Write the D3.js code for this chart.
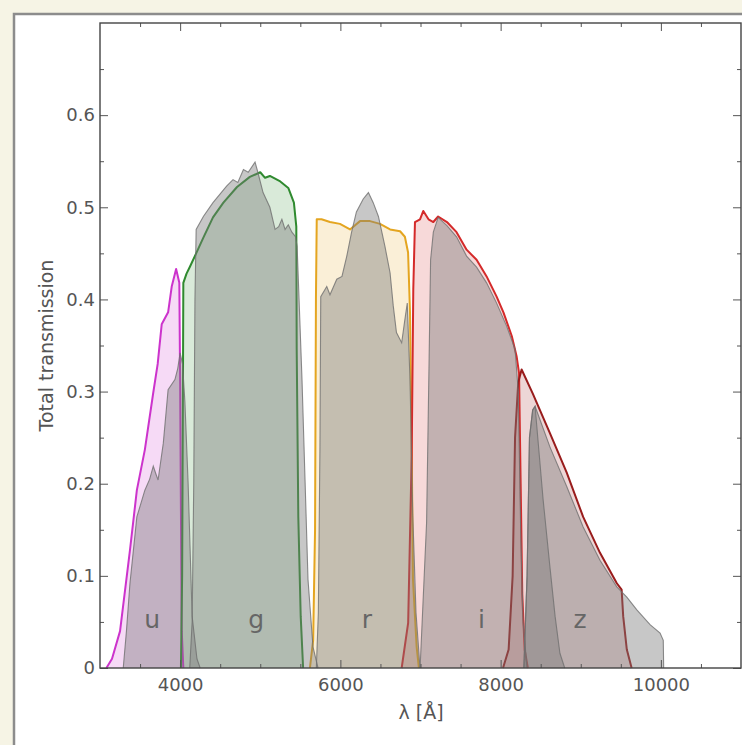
<!DOCTYPE html>
<html>
<head>
<meta charset="utf-8">
<script src="https://cdn.jsdelivr.net/npm/d3@7"></script>
<style>
  html, body { margin: 0; padding: 0; background: #f6f4e5; }
  svg { display: block; }
  text { font-family: "DejaVu Sans", sans-serif; }
</style>
</head>
<body>
<svg id="chart" width="742" height="745"></svg>
<script>
// bands: throughput with colour, plus the grey (measured) curves
const uLam = [3080, 3150, 3250, 3374, 3460, 3560, 3665, 3720, 3770, 3850, 3895, 3950, 3990, 4000, 4010, 4020, 4040];
const uT = [0, 0.01, 0.04, 0.128, 0.193, 0.237, 0.299, 0.33, 0.373, 0.386, 0.414, 0.433, 0.418, 0.31, 0.17, 0.04, 0];

const gLam = [4010, 4025, 4035, 4040, 4080, 4125, 4200, 4290, 4410, 4540, 4710, 4870, 5000, 5060, 5120, 5250, 5350, 5420, 5450, 5455, 5475, 5505, 5535];
const gT = [0, 0.1, 0.3, 0.418, 0.428, 0.436, 0.45, 0.467, 0.489, 0.505, 0.522, 0.533, 0.538, 0.532, 0.534, 0.528, 0.521, 0.505, 0.479, 0.346, 0.164, 0.056, 0];

const rLam = [5620, 5660, 5684, 5695, 5705, 5765, 5870, 5995, 6120, 6245, 6370, 6495, 6620, 6745, 6805, 6845, 6869, 6890, 6906, 6952, 6980];
const rT = [0, 0.03, 0.15, 0.4, 0.487, 0.487, 0.484, 0.482, 0.476, 0.485, 0.485, 0.482, 0.476, 0.474, 0.468, 0.451, 0.386, 0.24, 0.096, 0.023, 0];

const iLam = [6765, 6846, 6890, 6910, 6931, 6994, 7035, 7100, 7160, 7220, 7330, 7450, 7575, 7700, 7825, 7950, 8035, 8140, 8200, 8230, 8250, 8270, 8300, 8340];
const iT = [0, 0.049, 0.23, 0.411, 0.484, 0.487, 0.496, 0.487, 0.484, 0.49, 0.484, 0.473, 0.454, 0.443, 0.425, 0.403, 0.386, 0.36, 0.338, 0.32, 0.2, 0.08, 0.02, 0];

const zLam = [8030, 8100, 8150, 8180, 8220, 8262, 8400, 8615, 8825, 9030, 9240, 9450, 9510, 9530, 9575, 9635];
const zT = [0, 0.02, 0.1, 0.25, 0.31, 0.324, 0.298, 0.255, 0.212, 0.164, 0.125, 0.092, 0.085, 0.056, 0.02, 0];

const uGrayLam = [3290, 3330, 3374, 3460, 3560, 3620, 3665, 3700, 3725, 3790, 3850, 3935, 3970, 4000, 4030, 4060, 4100, 4150, 4210, 4250];
const uGrayT = [0, 0.04, 0.092, 0.164, 0.193, 0.205, 0.219, 0.21, 0.204, 0.244, 0.302, 0.313, 0.325, 0.342, 0.33, 0.288, 0.2, 0.056, 0.01, 0];

const gGrayLam = [4120, 4150, 4170, 4185, 4200, 4290, 4410, 4580, 4660, 4720, 4790, 4850, 4935, 4970, 5035, 5120, 5185, 5230, 5270, 5310, 5350, 5395, 5440, 5460, 5521, 5559, 5596, 5658, 5721];
const gGrayT = [0, 0.05, 0.2, 0.4, 0.476, 0.49, 0.505, 0.523, 0.53, 0.527, 0.541, 0.538, 0.549, 0.538, 0.516, 0.5, 0.476, 0.479, 0.487, 0.476, 0.481, 0.473, 0.468, 0.458, 0.313, 0.204, 0.096, 0.023, 0];

const rGrayLam = [5700, 5725, 5745, 5755, 5830, 5870, 5955, 6020, 6080, 6140, 6200, 6285, 6350, 6410, 6475, 6555, 6620, 6660, 6700, 6765, 6805, 6835, 6869, 6903, 6944, 6994];
const rGrayT = [0, 0.06, 0.24, 0.403, 0.414, 0.405, 0.422, 0.425, 0.447, 0.473, 0.495, 0.509, 0.516, 0.505, 0.49, 0.458, 0.429, 0.393, 0.364, 0.353, 0.378, 0.396, 0.313, 0.168, 0.06, 0];

const iGrayLam = [6995, 7076, 7108, 7126, 7160, 7220, 7330, 7450, 7575, 7700, 7825, 7950, 8075, 8180, 8220, 8250, 8280, 8330];
const iGrayT = [0, 0.158, 0.338, 0.443, 0.473, 0.489, 0.48, 0.468, 0.447, 0.435, 0.418, 0.396, 0.371, 0.346, 0.3, 0.15, 0.05, 0];

const zGrayLam = [8290, 8330, 8360, 8400, 8430, 8615, 8825, 9030, 9240, 9450, 9575, 9700, 9865, 9990, 10030, 10035];
const zGrayT = [0, 0.1, 0.25, 0.28, 0.284, 0.24, 0.197, 0.153, 0.117, 0.088, 0.077, 0.063, 0.047, 0.038, 0.03, 0];

const zNarrowLam = [8290, 8330, 8360, 8400, 8430, 8530, 8615, 8680, 8740, 8800];
const zNarrowT = [0, 0.1, 0.25, 0.28, 0.284, 0.183, 0.11, 0.056, 0.016, 0];

const bandNames = ['u', 'g', 'r', 'i', 'z'];
const bandLabelLam = [3650, 4950, 6330, 7760, 8990];
const bandColors = ['#cc33cc', '#2f8a2f', '#e4a520', '#d42a2a', '#991c1c'];

const xMajor = [4000, 6000, 8000, 10000];
const yMajor = [0, 0.1, 0.2, 0.3, 0.4, 0.5, 0.6];

const width = 742;
const height = 745;
const margin = { top: 23, right: 1, bottom: 77, left: 100 };

const svg = d3.select('#chart');

svg.append('rect').attr('width', width).attr('height', height).attr('fill', '#f6f4e5');
svg.append('rect')
  .attr('x', 14).attr('y', 14).attr('width', 800).attr('height', 800)
  .attr('fill', '#fff').attr('stroke', '#8c8c8c').attr('stroke-width', 2.5);

const x = d3.scaleLinear().domain([3000, 11000]).range([margin.left, width - margin.right]);
const y = d3.scaleLinear().domain([0, 0.7]).range([height - margin.bottom, margin.top]);

const zip = (lam, t) => lam.map((l, k) => ({ l, t: t[k] }));

const area = d3.area().x((d) => x(d.l)).y0(y(0)).y1((d) => y(d.t));
const line = d3.line().x((d) => x(d.l)).y((d) => y(d.t));

const coloured = [zip(uLam, uT), zip(gLam, gT), zip(rLam, rT), zip(iLam, iT), zip(zLam, zT)];
const grey = [zip(uGrayLam, uGrayT), zip(gGrayLam, gGrayT), zip(rGrayLam, rGrayT),
  zip(iGrayLam, iGrayT), zip(zGrayLam, zGrayT), zip(zNarrowLam, zNarrowT)];

const plot = svg.append('g').attr('class', 'plot-area');

plot.selectAll('.cfill')
  .data(coloured)
  .join('path')
  .attr('class', 'cfill')
  .attr('d', area)
  .attr('fill', (d, k) => bandColors[k])
  .attr('fill-opacity', 0.18);

plot.selectAll('.cline')
  .data(coloured)
  .join('path')
  .attr('class', 'cline')
  .attr('d', line)
  .attr('fill', 'none')
  .attr('stroke', (d, k) => bandColors[k])
  .attr('stroke-width', 2)
  .attr('stroke-linejoin', 'round');

plot.selectAll('.gfill')
  .data(grey)
  .join('path')
  .attr('class', 'gfill')
  .attr('d', area)
  .attr('fill', '#7a7a7a')
  .attr('fill-opacity', 0.42);

plot.selectAll('.gline')
  .data(grey)
  .join('path')
  .attr('class', 'gline')
  .attr('d', line)
  .attr('fill', 'none')
  .attr('stroke', '#6f6f6f')
  .attr('stroke-opacity', 0.8)
  .attr('stroke-width', 1.1);

plot.selectAll('.band')
  .data(bandNames)
  .join('text')
  .attr('class', 'band')
  .attr('x', (d, k) => x(bandLabelLam[k]))
  .attr('y', y(0.043))
  .attr('text-anchor', 'middle')
  .attr('font-size', 25)
  .attr('fill', '#666')
  .text((d) => d);

// axes: matplotlib style, ticks inside on all four sides
const xMinor = d3.range(3500, 11000, 500).filter((v) => !xMajor.includes(v));
const yMinor = d3.range(0.05, 0.7, 0.1);

const styleAxis = (g) => {
  g.select('.domain').remove();
  g.selectAll('line').attr('stroke', '#555').attr('stroke-width', 1);
  g.selectAll('text').attr('fill', '#555').attr('font-size', 18)
    .attr('font-family', '"DejaVu Sans", sans-serif');
};

const yBottom = y(0);
const yTop = y(0.7);
const xLeft = x(3000);
const xRight = x(11000);

svg.append('g').attr('transform', `translate(0,${yBottom})`)
  .call(d3.axisBottom(x).tickValues(xMajor).tickSize(-8).tickPadding(10).tickFormat(d3.format('d')))
  .call(styleAxis);
svg.append('g').attr('transform', `translate(0,${yBottom})`)
  .call(d3.axisBottom(x).tickValues(xMinor).tickSize(-4).tickFormat(''))
  .call(styleAxis);
svg.append('g').attr('transform', `translate(0,${yTop})`)
  .call(d3.axisTop(x).tickValues(xMajor).tickSize(-8).tickFormat(''))
  .call(styleAxis);
svg.append('g').attr('transform', `translate(0,${yTop})`)
  .call(d3.axisTop(x).tickValues(xMinor).tickSize(-4).tickFormat(''))
  .call(styleAxis);

svg.append('g').attr('transform', `translate(${xLeft},0)`)
  .call(d3.axisLeft(y).tickValues(yMajor).tickSize(-8).tickPadding(5)
    .tickFormat((d) => (d === 0 ? '0' : d3.format('.1f')(d))))
  .call(styleAxis);
svg.append('g').attr('transform', `translate(${xLeft},0)`)
  .call(d3.axisLeft(y).tickValues(yMinor).tickSize(-4).tickFormat(''))
  .call(styleAxis);
svg.append('g').attr('transform', `translate(${xRight},0)`)
  .call(d3.axisRight(y).tickValues(yMajor).tickSize(-8).tickFormat(''))
  .call(styleAxis);
svg.append('g').attr('transform', `translate(${xRight},0)`)
  .call(d3.axisRight(y).tickValues(yMinor).tickSize(-4).tickFormat(''))
  .call(styleAxis);

svg.append('rect')
  .attr('x', xLeft).attr('y', yTop)
  .attr('width', xRight - xLeft).attr('height', yBottom - yTop)
  .attr('fill', 'none').attr('stroke', '#444').attr('stroke-width', 1.4);

svg.append('text')
  .attr('x', 421)
  .attr('y', 719)
  .attr('text-anchor', 'middle')
  .attr('font-size', 19)
  .attr('fill', '#555')
  .text('λ [Å]');

svg.append('text')
  .attr('transform', `translate(53,${(yTop + yBottom) / 2}) rotate(-90)`)
  .attr('text-anchor', 'middle')
  .attr('font-size', 19)
  .attr('fill', '#555')
  .text('Total transmission');
</script>
</body>
</html>
